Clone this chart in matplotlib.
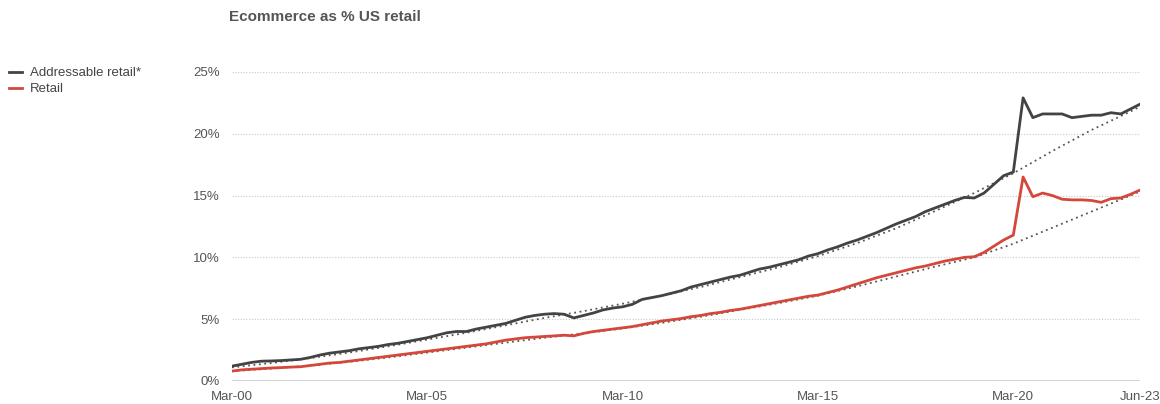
import numpy as np
import matplotlib
matplotlib.use("Agg")
import matplotlib.pyplot as plt

plt.rcParams['font.family'] = ['Liberation Sans', 'DejaVu Sans']

# quarterly values, Mar-00 .. Jun-23
addressable = [1.2, 1.35, 1.5, 1.6,
               1.62, 1.65, 1.7, 1.75,
               1.9, 2.1, 2.25, 2.35,
               2.45, 2.6, 2.7, 2.8,
               2.95, 3.05, 3.2, 3.35,
               3.5, 3.7, 3.9, 4.0,
               4.0, 4.2, 4.35, 4.5,
               4.65, 4.9, 5.15, 5.3,
               5.4, 5.45, 5.4, 5.1,
               5.3, 5.5, 5.75, 5.9,
               6.0, 6.2, 6.6, 6.75,
               6.9, 7.1, 7.3, 7.6,
               7.8, 8.0, 8.2, 8.4,
               8.55, 8.8, 9.05, 9.2,
               9.4, 9.6, 9.8, 10.1,
               10.3, 10.6, 10.85, 11.15,
               11.4, 11.7, 12.0, 12.35,
               12.7, 13.0, 13.3, 13.7,
               14.0, 14.3, 14.6, 14.85,
               14.8, 15.2, 15.9, 16.6,
               16.9, 22.9, 21.3, 21.6,
               21.6, 21.6, 21.3, 21.4,
               21.5, 21.5, 21.7, 21.6,
               22.0, 22.4]

retail = [0.8, 0.9, 0.95, 1.0,
          1.05, 1.08, 1.12, 1.15,
          1.25, 1.35, 1.45, 1.5,
          1.6, 1.7, 1.8, 1.9,
          2.0, 2.1, 2.2, 2.3,
          2.4, 2.5, 2.6, 2.7,
          2.8, 2.9, 3.0, 3.15,
          3.3, 3.4, 3.5, 3.55,
          3.6, 3.65, 3.7, 3.65,
          3.85, 4.0, 4.1, 4.2,
          4.3, 4.4, 4.55, 4.7,
          4.85, 4.95, 5.05, 5.2,
          5.3, 5.45, 5.55, 5.7,
          5.8, 5.95, 6.1, 6.25,
          6.4, 6.55, 6.7, 6.85,
          6.95, 7.15, 7.35, 7.6,
          7.85, 8.1, 8.35, 8.55,
          8.75, 8.95, 9.15, 9.3,
          9.5, 9.7, 9.85, 10.0,
          10.05, 10.4, 10.9, 11.4,
          11.8, 16.5, 14.9, 15.2,
          15.0, 14.7, 14.65, 14.65,
          14.6, 14.45, 14.75, 14.8,
          15.1, 15.45]

# trend lines, read at each March plus Jun-23
trend_idx = list(range(0, 93, 4)) + [93]
trend_addressable = [1.1, 1.45, 1.85, 2.3, 2.8, 3.35, 3.9, 4.5, 5.1, 5.65, 6.25, 6.9,
                     7.6, 8.4, 9.2, 10.1, 11.15, 12.35, 13.75, 15.2, 16.8, 18.6, 20.3,
                     21.8, 22.2]
trend_retail = [0.8, 1.0, 1.25, 1.55, 1.9, 2.3, 2.7, 3.1, 3.5, 3.85, 4.25, 4.7,
                5.2, 5.75, 6.3, 6.9, 7.65, 8.45, 9.25, 10.0, 11.1, 12.4, 13.7,
                15.0, 15.35]

tick_idx = [0, 20, 40, 60, 80, 93]
tick_labels = ['Mar-00', 'Mar-05', 'Mar-10', 'Mar-15', 'Mar-20', 'Jun-23']

dark = '#434343'
red = '#d5473b'
txt = '#555555'

x = np.arange(len(addressable))

fig = plt.figure(figsize=(11.6, 4.04), dpi=100)
ax = fig.add_axes([0.2, 0.057, 0.783, 0.765])

ax.plot(trend_idx, trend_addressable, color='#555555', lw=1.3, ls=(0, (1, 2)), zorder=2)
ax.plot(trend_idx, trend_retail, color='#555555', lw=1.3, ls=(0, (1, 2)), zorder=2)
ax.plot(x, addressable, color=dark, lw=2.0, label='Addressable retail*', zorder=3,
        solid_joinstyle='round')
ax.plot(x, retail, color=red, lw=2.0, label='Retail', zorder=3,
        solid_joinstyle='round')

ax.set_xlim(0, 93)
ax.set_ylim(0, 25)
ax.set_yticks([0, 5, 10, 15, 20, 25])
ax.set_yticklabels(['0%', '5%', '10%', '15%', '20%', '25%'])
ax.set_xticks(tick_idx)
ax.set_xticklabels(tick_labels)
ax.tick_params(axis='both', length=0, labelsize=9.5, labelcolor=txt)
ax.tick_params(axis='y', pad=9)
ax.tick_params(axis='x', pad=7)

for v in [5, 10, 15, 20, 25]:
    ax.axhline(v, color='#c8c8c8', lw=0.8, ls=(0, (1, 1.5)), zorder=1)
ax.axhline(0, color='#cccccc', lw=1.2, zorder=1)

for s in ax.spines.values():
    s.set_visible(False)

fig.text(0.197, 0.958, 'Ecommerce as % US retail', fontsize=11, fontweight='bold',
         color='#555555', va='center', ha='left')

leg = fig.legend(loc='upper left', bbox_to_anchor=(0.0, 0.857), frameon=False,
                 fontsize=9.5, handlelength=1.0, handletextpad=0.6, labelspacing=0.3,
                 borderaxespad=0.3)
for t in leg.get_texts():
    t.set_color('#444444')

fig.savefig('out.png', dpi=100)
